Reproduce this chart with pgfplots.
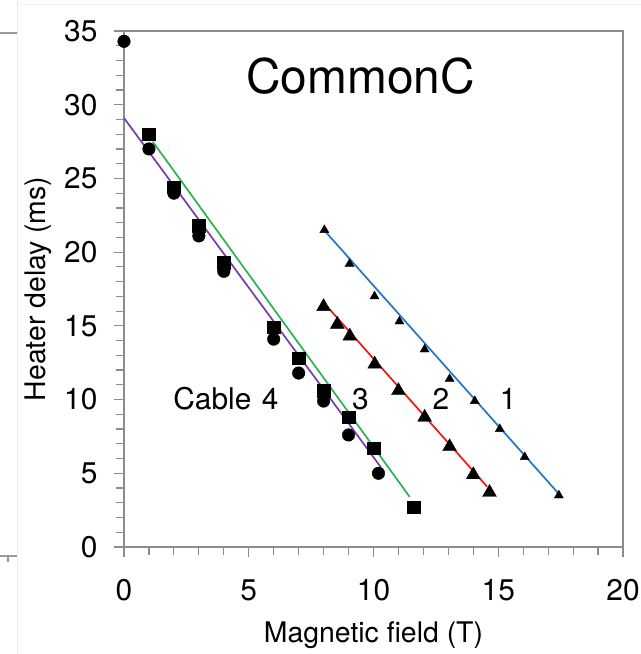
\documentclass[border=0pt]{standalone}
\usepackage{fontspec}
\setmainfont{TeX Gyre Heros}
\usepackage{pgfplots}
\pgfplotsset{compat=1.18}
\definecolor{axgray}{RGB}{140,140,140}
\definecolor{cblue}{RGB}{30,120,200}
\definecolor{cred}{RGB}{245,20,20}
\definecolor{cgreen}{RGB}{40,180,80}
\definecolor{cpurple}{RGB}{120,60,170}
\begin{document}
\begin{tikzpicture}
\useasboundingbox (-124bp,-107bp) rectangle (517bp,547bp);
\draw[black!40, line width=1.2bp] (-124bp,514bp) -- (-107bp,514bp);
\draw[black!8, line width=0.8bp] (-107bp,-107bp) -- (-107bp,547bp);
\draw[black!6, line width=0.8bp] (-107bp,543bp) -- (517bp,543bp);
\draw[black!40, line width=1.2bp] (-124bp,-9bp) -- (-107bp,-9bp);
\draw[black!40, line width=1.2bp] (-116bp,-9bp) -- (-116bp,-15bp);
\begin{axis}[
  width=499bp, height=516bp, scale only axis,
  xmin=0, xmax=20, ymin=0, ymax=35,
  xtick={0,5,...,20}, ytick={0,5,...,35},
  minor tick num=4,
  tick align=outside, xtick pos=bottom, ytick pos=left,
  major tick length=10bp, minor tick length=8bp,
  axis line style={axgray, line width=1.3bp},
  every tick/.style={axgray, line width=1.2bp},
  /pgf/number format/assume math mode=true,
  ticklabel style={font=\fontsize{30}{32}\selectfont},
  xticklabel style={yshift=-19bp},
  yticklabel style={xshift=-13bp},
  every axis x label/.style={at={(axis description cs:0.5,-0.1705)}, anchor=center},
  every axis y label/.style={at={(axis description cs:-0.1723,0.5)}, anchor=center, rotate=90},
  xlabel={Magnetic field (T)}, ylabel={Heater delay (ms)},
  label style={font=\fontsize{28.5}{32}\selectfont},
  clip=false,
]
\addplot[cpurple, line width=1.7bp] coordinates {(0,29.1) (10.3,5.4)};
\addplot[cgreen, line width=1.7bp] coordinates {(1.15,27.5) (11.45,3.4)};
\addplot[cred, line width=1.7bp] coordinates {(8.15,16.3) (14.55,4.1)};
\addplot[cblue, line width=1.7bp] coordinates {(8.07,21.4) (17.43,3.6)};
\addplot[only marks, mark=*, mark size=6.3bp, black] coordinates {
(0,34.3) (1,27.0) (2,24.0) (3,21.1) (4,18.7) (6,14.1) (7,11.8) (8,9.9) (9,7.6) (10.2,5.0)};
\addplot[only marks, mark=square*, mark size=6.3bp, black] coordinates {
(1,28.0) (2,24.4) (3,21.8) (4,19.3) (6,14.9) (7,12.8) (8,10.6) (9,8.8) (10,6.7) (11.6,2.7)};
\addplot[only marks, mark=triangle*, mark size=8bp, black] coordinates {
(8.0,16.3) (8.55,15.1) (9.05,14.3) (10.05,12.4) (11.0,10.6) (12.05,8.8) (13.05,6.8) (14.0,4.9) (14.65,3.7)};
\addplot[only marks, mark=triangle*, mark size=5.2bp, black] coordinates {
(8.03,21.5) (9.04,19.2) (10.04,17.0) (11.04,15.3) (12.05,13.4) (13.05,11.4) (14.06,9.9) (15.06,8.0) (16.06,6.1) (17.43,3.5)};
\node[anchor=base, font=\fontsize{48}{50}\selectfont] at (axis cs:9.48,30.77) {CommonC};
\node[anchor=base west, inner sep=0pt, font=\fontsize{30}{32}\selectfont] at (axis cs:1.97,9.33) {Cable};
\node[anchor=base, inner sep=0pt, font=\fontsize{30}{32}\selectfont] at (axis cs:5.86,9.33) {4};
\node[anchor=base, inner sep=0pt, font=\fontsize{30}{32}\selectfont] at (axis cs:9.48,9.33) {3};
\node[anchor=base, inner sep=0pt, font=\fontsize{30}{32}\selectfont] at (axis cs:12.7,9.33) {2};
\node[anchor=base, inner sep=0pt, font=\fontsize{30}{32}\selectfont] at (axis cs:15.4,9.33) {1};
\end{axis}
\end{tikzpicture}
\end{document}
